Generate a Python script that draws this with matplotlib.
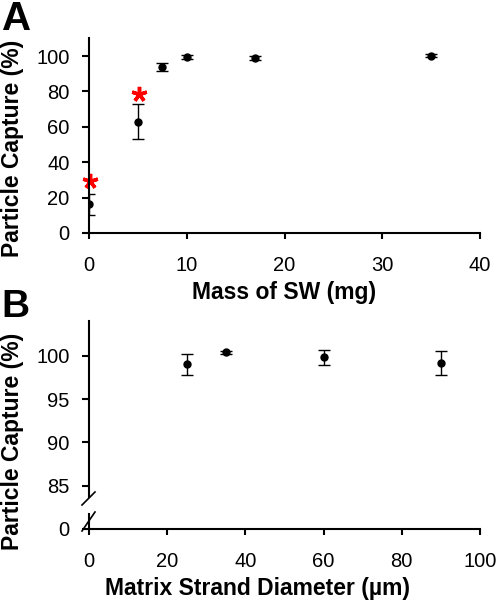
import matplotlib
matplotlib.use("Agg")
import matplotlib.pyplot as plt
from matplotlib.lines import Line2D

plt.rcParams['font.family'] = ['Liberation Sans', 'DejaVu Sans']

# Panel A data
mass_sw = [0, 5, 7.5, 10, 17, 35]
capture_a = [16.2, 62.9, 94.0, 99.4, 98.7, 100.2]
err_a = [6.0, 10.0, 2.3, 1.0, 1.2, 1.0]
sig_x = [0.1, 5.15]
sig_y = [29.4, 78.4]
xticks_a = [0, 10, 20, 30, 40]
yticks_a = [0, 20, 40, 60, 80, 100]

# Panel B data
diameter = [25, 35, 60, 90]
capture_b = [99.0, 100.4, 99.8, 99.15]
err_b = [1.25, 0.2, 0.9, 1.35]
xticks_b = [0, 20, 40, 60, 80, 100]
yticks_b = [85, 90, 95, 100]

W, H = 500, 609
fig = plt.figure(figsize=(W / 100, H / 100), dpi=100)


def rect(l, t, r, b):
    return [l / W, 1 - b / H, (r - l) / W, (b - t) / H]


LW = 1.5
TICK_FS = 14.5
LABEL_FS = 16.5


def style(ax, left=True, bottom=True):
    for s in ['top', 'right']:
        ax.spines[s].set_visible(False)
    ax.spines['left'].set_visible(left)
    ax.spines['bottom'].set_visible(bottom)
    for s in ['left', 'bottom']:
        ax.spines[s].set_linewidth(LW)
    ax.tick_params(axis='y', direction='out', length=5, width=LW, pad=9,
                   labelsize=TICK_FS)
    ax.tick_params(axis='x', direction='out', length=4.5, width=LW, pad=12,
                   labelsize=TICK_FS)
    ax.patch.set_alpha(0)


# ---- Panel A ----
axA = fig.add_axes(rect(89, 38, 480, 233))
style(axA)
axA.errorbar(mass_sw, capture_a, yerr=err_a, fmt='o', color='black',
             markersize=5, elinewidth=1, capsize=4, capthick=1)
axA.plot(sig_x, sig_y, linestyle='none', marker=(5, 2, 0), color='red',
         markersize=11, markeredgewidth=2.5, clip_on=False)
axA.set_xlim(0, 40)
axA.set_ylim(0, 110.2)
axA.set_xticks(xticks_a)
axA.set_yticks(yticks_a)

# ---- Panel B (broken y axis) ----
axB = fig.add_axes(rect(89, 320.7, 480, 497))
style(axB, bottom=False)
axB.errorbar(diameter, capture_b, yerr=err_b, fmt='o', color='black',
             markersize=5, elinewidth=1, capsize=4, capthick=1)
axB.set_xlim(0, 100)
axB.set_ylim(83.7, 104.04)
axB.set_yticks(yticks_b)
axB.set_xticks([])

axB0 = fig.add_axes(rect(89, 514, 480, 528.7))
style(axB0)
axB0.set_xlim(0, 100)
axB0.set_ylim(0, 1)
axB0.set_yticks([0])
axB0.set_xticks(xticks_b)

# break marks
for (x0, y0, x1, y1) in [(82, 505, 95, 492), (82, 531, 95, 512)]:
    fig.add_artist(Line2D([x0 / W, x1 / W], [1 - y0 / H, 1 - y1 / H],
                          transform=fig.transFigure, color='black', lw=1.2))

# labels
fig.text(13 / W, 1 - 148 / H, 'Particle Capture (%)', rotation=90,
         ha='center', va='center', fontsize=LABEL_FS, fontweight='bold')
fig.text(13 / W, 1 - 441 / H, 'Particle Capture (%)', rotation=90,
         ha='center', va='center', fontsize=LABEL_FS, fontweight='bold')
fig.text(284.5 / W, 1 - 292 / H, 'Mass of SW (mg)', ha='center',
         va='center', fontsize=LABEL_FS, fontweight='bold')
fig.text(257.5 / W, 1 - 588 / H, 'Matrix Strand Diameter (µm)',
         ha='center', va='center', fontsize=LABEL_FS, fontweight='bold')

fig.text(2 / W, 1 - 19 / H, 'A', ha='left', va='center', fontsize=29,
         fontweight='bold')
fig.text(1 / W, 1 - 307 / H, 'B', ha='left', va='center', fontsize=28,
         fontweight='bold')

fig.savefig('out.png', dpi=100)
